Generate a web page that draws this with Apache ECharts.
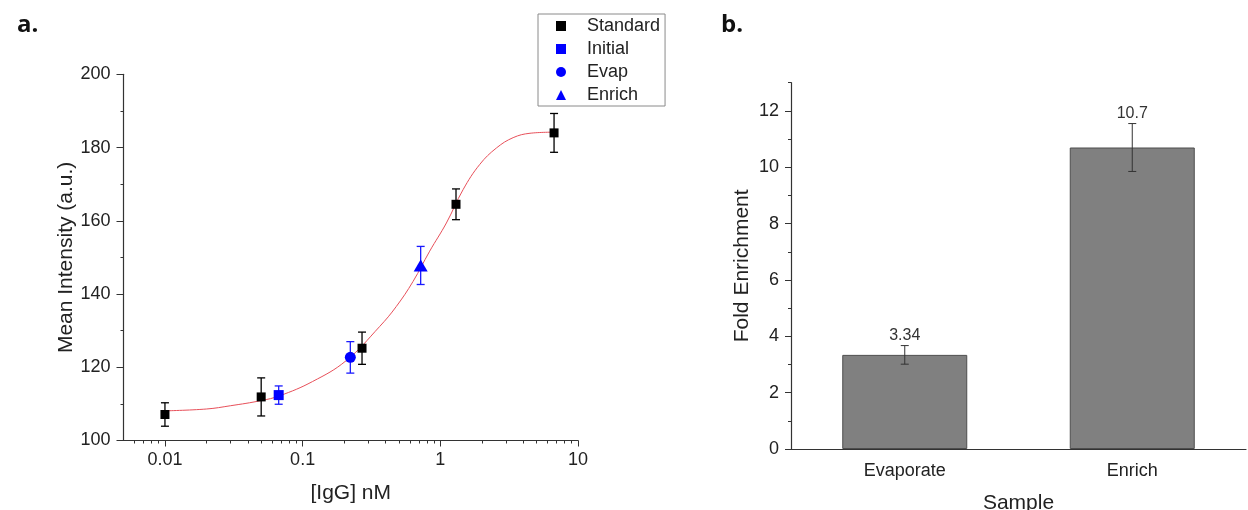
<!DOCTYPE html>
<html>
<head>
<meta charset="utf-8">
<script src="https://cdn.jsdelivr.net/npm/echarts@6/dist/echarts.min.js"></script>
<style>
  html, body { margin: 0; padding: 0; background: #fff; }
  #chart { width: 1248px; height: 510px; }
</style>
</head>
<body>
<div id="chart"></div>
<script>
// ---- Panel a: calibration curve ----
const stdX = [0.01, 0.05, 0.27, 1.3, 6.7];
const stdY = [107.1, 111.9, 125.2, 164.5, 184.0];
const stdErr = [3.2, 5.2, 4.4, 4.2, 5.3];

const initialX = [0.067];
const initialY = [112.4];
const initialErr = [2.5];

const evapX = [0.222];
const evapY = [122.7];
const evapErr = [4.3];

const enrichX = [0.72];
const enrichY = [147.8];
const enrichErr = [5.2];

// fitted logistic curve, read along its length
const fitX = [0.01, 0.02, 0.03, 0.05, 0.068, 0.118, 0.207, 0.362, 0.479, 0.633, 0.837, 1.107, 1.463, 1.935, 2.56, 3.38, 4.48, 6.7];
const fitY = [108.1, 108.6, 109.5, 110.9, 112.2, 116.1, 121.8, 131.1, 136.6, 143.4, 151.7, 159.4, 168.5, 175.4, 179.9, 182.7, 183.9, 184.2];

const xTickValues = [0.01, 0.1, 1, 10];
const xTickLabels = ['0.01', '0.1', '1', '10'];

// ---- Panel b: fold enrichment ----
const sampleNames = ['Evaporate', 'Enrich'];
const foldValues = [3.34, 10.7];
const foldErr = [0.33, 0.85];
const foldTickValues = [0, 2, 4, 6, 8, 10, 12];

const FONT = 'Liberation Sans, Arial, sans-serif';
const TXT = '#222';
const AX = '#333';

// minor ticks on the log axis at 2..9 of every decade
const minorLog = [];
for (let k = -3; k <= 0; k++) {
  for (let m = 2; m <= 9; m++) {
    const v = m * Math.pow(10, k);
    if (v > 0.005 && v < 10) minorLog.push(+v.toPrecision(3));
  }
}

const zip = (xs, ys) => xs.map((x, i) => [x, ys[i]]);
const zip3 = (xs, ys, es) => xs.map((x, i) => [x, ys[i], es[i]]);

function errorBarRenderer(color, capHalf, width) {
  return function (params, api) {
    const x = api.value(0), y = api.value(1), e = api.value(2);
    const top = api.coord([x, y + e]);
    const bot = api.coord([x, y - e]);
    const st = { stroke: color, lineWidth: width };
    return {
      type: 'group',
      children: [
        { type: 'line', shape: { x1: top[0], y1: top[1], x2: bot[0], y2: bot[1] }, style: st },
        { type: 'line', shape: { x1: top[0] - capHalf, y1: top[1], x2: top[0] + capHalf, y2: top[1] }, style: st },
        { type: 'line', shape: { x1: bot[0] - capHalf, y1: bot[1], x2: bot[0] + capHalf, y2: bot[1] }, style: st }
      ]
    };
  };
}

const chart = echarts.init(document.getElementById('chart'), null, { renderer: 'canvas' });

const option = {
  animation: false,
  backgroundColor: '#fff',
  textStyle: { fontFamily: FONT },
  graphic: [
    { type: 'text', left: 17, top: 13, style: { text: 'a.', font: 'bold 24px "Open Sans", sans-serif', fill: '#111' } },
    { type: 'text', left: 721, top: 13, style: { text: 'b.', font: 'bold 24px "Open Sans", sans-serif', fill: '#111' } }
  ],
  legend: {
    orient: 'vertical',
    left: 538,
    top: 14,
    padding: [3, 5, 2, 18],
    itemGap: 5,
    itemWidth: 10,
    itemHeight: 10,
    borderColor: '#8a8a8a',
    borderWidth: 1,
    backgroundColor: '#fff',
    textStyle: { fontFamily: FONT, fontSize: 18, color: TXT, padding: [0, 0, 0, 16] },
    data: [
      { name: 'Standard', icon: 'rect' },
      { name: 'Initial', icon: 'rect' },
      { name: 'Evap', icon: 'circle' },
      { name: 'Enrich', icon: 'triangle' }
    ]
  },
  grid: [
    { left: 123.5, right: 670, top: 74.3, bottom: 69.5, containLabel: false, outerBoundsMode: 'none' },
    { left: 791, right: 2, top: 82.7, bottom: 61, containLabel: false, outerBoundsMode: 'none' }
  ],
  xAxis: [
    {
      gridIndex: 0, type: 'log', logBase: 10, min: 0.005, max: 10, position: 'bottom',
      name: '[IgG] nM', nameLocation: 'middle', nameGap: 42,
      nameTextStyle: { fontFamily: FONT, fontSize: 21, color: TXT },
      axisLine: { lineStyle: { color: AX, width: 1.2 } },
      axisTick: { customValues: xTickValues, length: 6, lineStyle: { color: AX } },
      axisLabel: {
        customValues: xTickValues, margin: 11, fontFamily: FONT, fontSize: 18, color: TXT,
        formatter: v => { const i = xTickValues.findIndex(t => Math.abs(t - v) < 1e-9 * Math.max(1, t)); return i >= 0 ? xTickLabels[i] : ''; }
      },
      splitLine: { show: false }
    },
    {
      gridIndex: 0, type: 'log', logBase: 10, min: 0.005, max: 10, position: 'bottom',
      axisLine: { show: false },
      axisTick: { customValues: minorLog, length: 3, lineStyle: { color: AX } },
      axisLabel: { show: false },
      splitLine: { show: false }
    },
    {
      gridIndex: 1, type: 'category', data: sampleNames, position: 'bottom',
      name: 'Sample', nameLocation: 'middle', nameGap: 44,
      nameTextStyle: { fontFamily: FONT, fontSize: 21, color: TXT },
      axisLine: { lineStyle: { color: AX, width: 1.2 } },
      axisTick: { alignWithLabel: true, length: 6, lineStyle: { color: AX } },
      axisLabel: { margin: 13, fontFamily: FONT, fontSize: 18, color: TXT },
      splitLine: { show: false }
    },
    {
      gridIndex: 1, type: 'category', data: sampleNames, position: 'bottom',
      axisLine: { show: false },
      axisTick: { length: 3, lineStyle: { color: AX } },
      axisLabel: { show: false },
      splitLine: { show: false }
    }
  ],
  yAxis: [
    {
      gridIndex: 0, type: 'value', min: 100, max: 200, interval: 20, position: 'left',
      name: 'Mean Intensity (a.u.)', nameLocation: 'middle', nameGap: 47,
      nameTextStyle: { fontFamily: FONT, fontSize: 21, color: TXT },
      axisLine: { show: true, lineStyle: { color: AX, width: 1.2 } },
      axisTick: { show: true, length: 7, lineStyle: { color: AX } },
      minorTick: { show: true, splitNumber: 2, length: 3, lineStyle: { color: AX } },
      axisLabel: { margin: 13, fontFamily: FONT, fontSize: 18, color: TXT },
      splitLine: { show: false }
    },
    {
      gridIndex: 1, type: 'value', min: 0, max: 13, position: 'left',
      name: 'Fold Enrichment', nameLocation: 'middle', nameGap: 38,
      nameTextStyle: { fontFamily: FONT, fontSize: 21, color: TXT },
      axisLine: { show: true, lineStyle: { color: AX, width: 1.2 } },
      axisTick: { show: true, customValues: foldTickValues, length: 6, lineStyle: { color: AX } },
      axisLabel: { customValues: foldTickValues, margin: 12, fontFamily: FONT, fontSize: 18, color: TXT },
      splitLine: { show: false }
    },
    {
      gridIndex: 1, type: 'value', min: 0, max: 13, interval: 1, position: 'left',
      axisLine: { show: false },
      axisTick: { show: true, length: 3, lineStyle: { color: AX } },
      axisLabel: { show: false },
      splitLine: { show: false }
    }
  ],
  series: [
    {
      name: 'Fit', type: 'line', xAxisIndex: 0, yAxisIndex: 0,
      data: zip(fitX, fitY), smooth: 0.4, showSymbol: false, symbol: 'none',
      lineStyle: { color: '#e8505a', width: 1 }, z: 2, silent: true
    },
    {
      name: 'StdErr', type: 'custom', xAxisIndex: 0, yAxisIndex: 0,
      data: zip3(stdX, stdY, stdErr), encode: { x: 0, y: 1 },
      renderItem: errorBarRenderer('#000', 4, 1.3), z: 3, silent: true
    },
    {
      name: 'SampleErr', type: 'custom', xAxisIndex: 0, yAxisIndex: 0,
      data: zip3(initialX, initialY, initialErr).concat(zip3(evapX, evapY, evapErr), zip3(enrichX, enrichY, enrichErr)),
      encode: { x: 0, y: 1 },
      renderItem: errorBarRenderer('#1a1aff', 4, 1.3), z: 3, silent: true
    },
    {
      name: 'Standard', type: 'scatter', xAxisIndex: 0, yAxisIndex: 0,
      data: zip(stdX, stdY), symbol: 'rect', symbolSize: 9,
      itemStyle: { color: '#000', opacity: 1 }, z: 5
    },
    {
      name: 'Initial', type: 'scatter', xAxisIndex: 0, yAxisIndex: 0,
      data: zip(initialX, initialY), symbol: 'rect', symbolSize: 10,
      itemStyle: { color: '#0000ff', opacity: 1 }, z: 5
    },
    {
      name: 'Evap', type: 'scatter', xAxisIndex: 0, yAxisIndex: 0,
      data: zip(evapX, evapY), symbol: 'circle', symbolSize: 11,
      itemStyle: { color: '#0000ff', opacity: 1 }, z: 5
    },
    {
      name: 'Enrich', type: 'scatter', xAxisIndex: 0, yAxisIndex: 0,
      data: zip(enrichX, enrichY), symbol: 'triangle', symbolSize: [14, 12],
      itemStyle: { color: '#0000ff', opacity: 1 }, z: 5
    },
    {
      name: 'Fold', type: 'bar', xAxisIndex: 2, yAxisIndex: 1,
      data: foldValues, barWidth: 125,
      itemStyle: { color: '#808080', borderColor: '#4d4d4d', borderWidth: 1 }, z: 2
    },
    {
      name: 'FoldErr', type: 'custom', xAxisIndex: 2, yAxisIndex: 1,
      data: sampleNames.map((n, i) => [i, foldValues[i], foldErr[i]]),
      encode: { x: 0, y: 1 },
      renderItem: function (params, api) {
        const i = api.value(0), v = api.value(1), e = api.value(2);
        const top = api.coord([i, v + e]);
        const bot = api.coord([i, v - e]);
        const st = { stroke: '#333', lineWidth: 1 };
        return {
          type: 'group',
          children: [
            { type: 'line', shape: { x1: top[0], y1: top[1], x2: bot[0], y2: bot[1] }, style: st },
            { type: 'line', shape: { x1: top[0] - 4, y1: top[1], x2: top[0] + 4, y2: top[1] }, style: st },
            { type: 'line', shape: { x1: bot[0] - 4, y1: bot[1], x2: bot[0] + 4, y2: bot[1] }, style: st },
            { type: 'text', x: top[0], y: top[1] - 2,
              style: { text: String(foldValues[i]), fontFamily: FONT, fontSize: 16, fill: '#333', align: 'center', verticalAlign: 'bottom' } }
          ]
        };
      },
      z: 4, silent: true
    }
  ]
};

chart.setOption(option);
</script>
</body>
</html>
